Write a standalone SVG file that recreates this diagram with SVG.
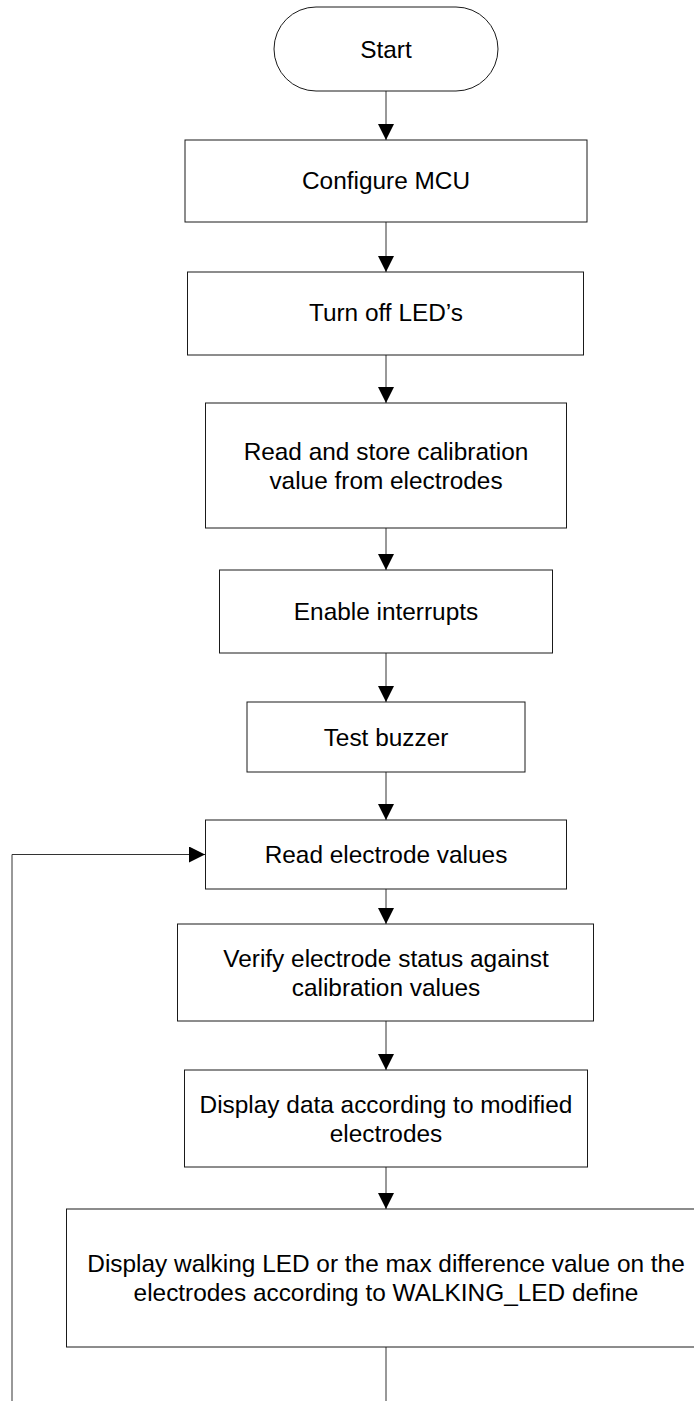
<svg xmlns="http://www.w3.org/2000/svg" width="694" height="1401" viewBox="0 0 694 1401">
<style>
.box{fill:#fff;stroke:#1a1a1a;stroke-width:1}
.lbl{font-family:"Liberation Sans",Arial,sans-serif;font-size:24.4px;fill:#000;text-anchor:middle}
.con{fill:none;stroke:#333;stroke-width:1}
</style>
<defs>
<marker id="ah" markerWidth="16" markerHeight="16" viewBox="0 0 16 16" refX="16" refY="8" orient="auto" markerUnits="userSpaceOnUse">
<path d="M0,0 L16,8 L0,16 Z" fill="#000"/>
</marker>
</defs>
<rect x="0" y="0" width="694" height="1401" fill="#fff"/>
<g id="connectors">
<line class="con" x1="386" y1="91" x2="386" y2="140" marker-end="url(#ah)"/>
<line class="con" x1="386" y1="222" x2="386" y2="272" marker-end="url(#ah)"/>
<line class="con" x1="386" y1="355" x2="386" y2="403" marker-end="url(#ah)"/>
<line class="con" x1="386" y1="528" x2="386" y2="570" marker-end="url(#ah)"/>
<line class="con" x1="386" y1="653" x2="386" y2="702" marker-end="url(#ah)"/>
<line class="con" x1="386" y1="772" x2="386" y2="820" marker-end="url(#ah)"/>
<line class="con" x1="386" y1="889" x2="386" y2="924" marker-end="url(#ah)"/>
<line class="con" x1="386" y1="1021" x2="386" y2="1070" marker-end="url(#ah)"/>
<line class="con" x1="386" y1="1167" x2="386" y2="1209" marker-end="url(#ah)"/>
<line class="con" x1="386" y1="1347" x2="386" y2="1401"/>
<polyline class="con" points="12,1401 12,854.5 205,854.5" marker-end="url(#ah)"/>
</g>
<g id="start">
<rect class="box" x="274" y="7" width="224" height="84" rx="42" ry="42"/>
<text class="lbl" x="386" y="58">Start</text>
</g>
<g id="configure">
<rect class="box" x="185" y="140" width="402" height="82"/>
<text class="lbl" x="386" y="189">Configure MCU</text>
</g>
<g id="turnoff">
<rect class="box" x="187.5" y="272" width="396" height="83"/>
<text class="lbl" x="386" y="321">Turn off LED’s</text>
</g>
<g id="readstore">
<rect class="box" x="205.5" y="403" width="361" height="125"/>
<text class="lbl" x="386" y="459.5">Read and store calibration</text>
<text class="lbl" x="386" y="488.5">value from electrodes</text>
</g>
<g id="enable">
<rect class="box" x="219.5" y="570" width="333" height="83"/>
<text class="lbl" x="386" y="619.5">Enable interrupts</text>
</g>
<g id="buzzer">
<rect class="box" x="247" y="702" width="278" height="70"/>
<text class="lbl" x="386" y="745.5">Test buzzer</text>
</g>
<g id="readelectrode">
<rect class="box" x="205.5" y="820" width="361" height="69"/>
<text class="lbl" x="386" y="863">Read electrode values</text>
</g>
<g id="verify">
<rect class="box" x="177.5" y="924" width="416" height="97"/>
<text class="lbl" x="386" y="967">Verify electrode status against</text>
<text class="lbl" x="386" y="996">calibration values</text>
</g>
<g id="displaydata">
<rect class="box" x="184.5" y="1070" width="403" height="97"/>
<text class="lbl" x="386" y="1112.5">Display data according to modified</text>
<text class="lbl" x="386" y="1141.5">electrodes</text>
</g>
<g id="walking">
<rect class="box" x="66.5" y="1209" width="640" height="138"/>
<text class="lbl" x="386" y="1272">Display walking LED or the max difference value on the</text>
<text class="lbl" x="386" y="1301">electrodes according to WALKING_LED define</text>
</g>
</svg>
